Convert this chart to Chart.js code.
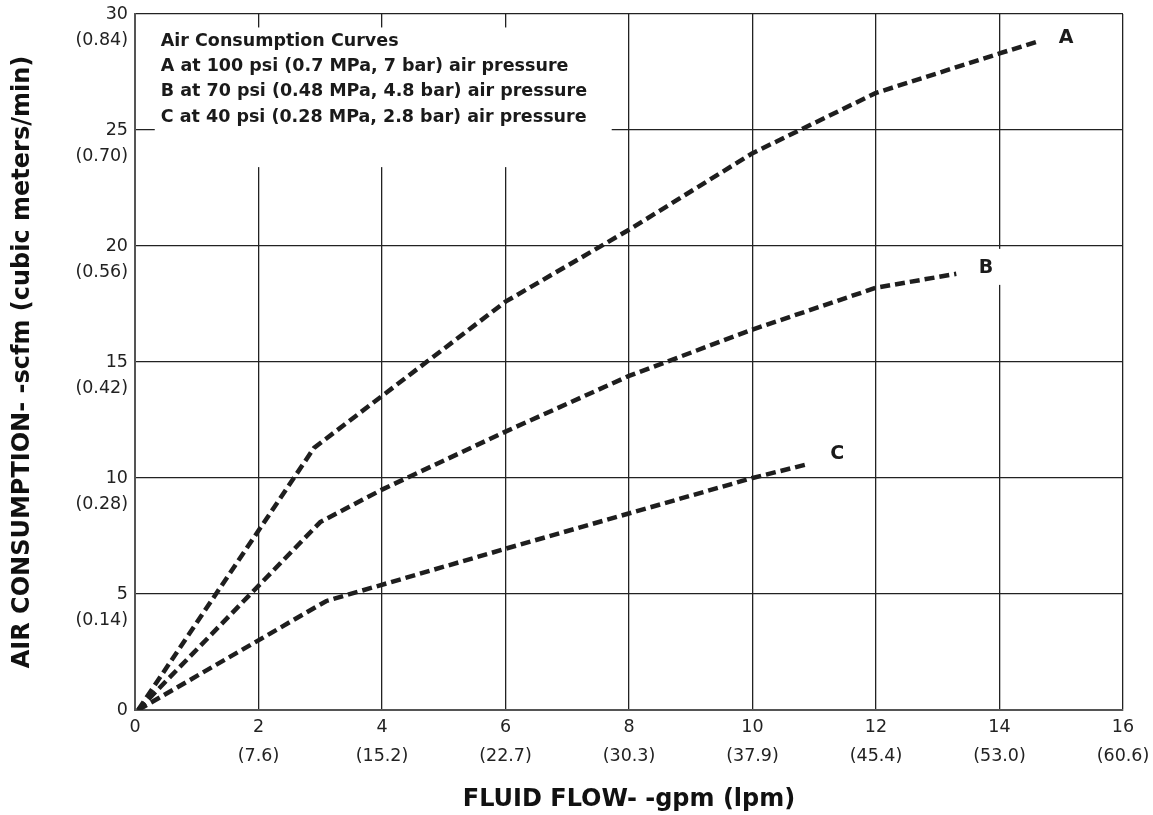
<!DOCTYPE html>
<html>
<head>
<meta charset="utf-8">
<script src="https://cdn.jsdelivr.net/npm/chart.js@4.4.1/dist/chart.umd.min.js"></script>
<style>
    body { margin: 0; background: #fff; }
    #wrap { width: 1153px; height: 815px; }
</style>
</head>
<body>
<div id="wrap"><canvas id="chart" width="1153" height="815"></canvas></div>
<script>
// gpm tick values and their lpm equivalents
const gpmTicks = [0, 2, 4, 6, 8, 10, 12, 14, 16];
const lpmLabels = ["", "(7.6)", "(15.2)", "(22.7)", "(30.3)", "(37.9)", "(45.4)", "(53.0)", "(60.6)"];
// scfm tick values and their cubic meters/min equivalents
const scfmTicks = [0, 5, 10, 15, 20, 25, 30];
const cmmLabels = ["", "(0.14)", "(0.28)", "(0.42)", "(0.56)", "(0.70)", "(0.84)"];

// curve A - 100 psi
const flowA = [0.05, 2.9, 6, 8, 10, 12, 14, 14.6];
const airA = [0, 11.3, 17.6, 20.7, 24.0, 26.6, 28.3, 28.8];
// curve B - 70 psi
const flowB = [0.05, 3.0, 4, 6, 8, 10, 12, 13.3];
const airB = [0, 8.1, 9.5, 12.0, 14.4, 16.4, 18.2, 18.8];
// curve C - 40 psi
const flowC = [0.05, 3.1, 6, 10, 10.9];
const airC = [0, 4.7, 6.95, 10, 10.6];

const curveNames = ["A", "B", "C"];
const legendLines = [
    "Air Consumption Curves",
    "A at 100 psi (0.7 MPa, 7 bar) air pressure",
    "B at 70 psi (0.48 MPa, 4.8 bar) air pressure",
    "C at 40 psi (0.28 MPa, 2.8 bar) air pressure"
];

function toPoints(xs, ys) {
    return xs.map((x, i) => ({ x: x, y: ys[i] }));
}

function curve(label, xs, ys) {
    return {
        label: label,
        data: toPoints(xs, ys),
        borderColor: "#1e1e1e",
        borderWidth: 4.5,
        borderDash: [10, 5],
        borderCapStyle: "butt",
        pointRadius: 0,
        tension: 0,
        fill: false
    };
}

const FONT = "'DejaVu Sans', sans-serif";

// legend box and curve letters, with white backing that hides the grid
const notesPlugin = {
    id: "notes",
    beforeDatasetsDraw(chart) {
        const ctx = chart.ctx;
        const xs = chart.scales.x;
        const ys = chart.scales.y;
        ctx.save();

        let bx0 = xs.getPixelForValue(0.32);
        let bx1 = xs.getPixelForValue(7.72);
        let by0 = ys.getPixelForValue(29.42);
        let by1 = ys.getPixelForValue(23.4);
        ctx.fillStyle = "#fff";
        ctx.fillRect(bx0, by0, bx1 - bx0, by1 - by0);

        ctx.fillStyle = "#1a1a1a";
        ctx.font = "bold 17.5px " + FONT;
        ctx.textAlign = "left";
        ctx.textBaseline = "middle";
        legendLines.forEach((t, i) => {
            ctx.fillText(t, bx0 + 6, by0 + 14 + i * 25.2);
        });

        // curve letters
        const spots = [[15.08, 29.0], [13.78, 19.1], [11.37, 11.08]];
        ctx.font = "bold 19px " + FONT;
        ctx.textAlign = "center";
        curveNames.forEach((n, i) => {
            let px = xs.getPixelForValue(spots[i][0]);
            let py = ys.getPixelForValue(spots[i][1]);
            ctx.fillStyle = "#fff";
            ctx.fillRect(px - 18, py - 18, 36, 36);
            ctx.fillStyle = "#1a1a1a";
            ctx.fillText(n, px, py + 1);
        });
        ctx.restore();
    }
};

let ctx = document.getElementById("chart").getContext("2d");

new Chart(ctx, {
    type: "line",
    data: {
        datasets: [
            curve("A", flowA, airA),
            curve("B", flowB, airB),
            curve("C", flowC, airC)
        ]
    },
    options: {
        responsive: false,
        animation: false,
        events: [],
        layout: { padding: { top: 14, right: 30, left: 0, bottom: 0 } },
        plugins: {
            legend: { display: false },
            tooltip: { enabled: false }
        },
        scales: {
            x: {
                type: "linear",
                min: 0,
                max: 16,
                afterBuildTicks(scale) {
                    scale.ticks = gpmTicks.map(v => ({ value: v }));
                },
                afterFit(scale) {
                    scale.height = 105;
                    scale.paddingLeft = 0;
                    scale.paddingRight = 0;
                },
                grid: { color: "#222", lineWidth: 1.3, drawTicks: false },
                border: { color: "#555", width: 2 },
                ticks: {
                    padding: 2,
                    color: "#222",
                    maxRotation: 0,
                    autoSkip: false,
                    font: { family: FONT, size: 17.5, lineHeight: 1.71 },
                    callback(value) {
                        let i = gpmTicks.indexOf(value);
                        return lpmLabels[i] ? [String(value), lpmLabels[i]] : [String(value)];
                    }
                },
                title: {
                    display: true,
                    text: "FLUID FLOW- -gpm (lpm)",
                    color: "#111",
                    font: { family: FONT, size: 24, weight: "bold" },
                    padding: { top: 0, bottom: 1 }
                }
            },
            y: {
                min: 0,
                max: 30,
                afterBuildTicks(scale) {
                    scale.ticks = scfmTicks.map(v => ({ value: v }));
                },
                afterFit(scale) {
                    scale.width = 135;
                    scale.paddingTop = 0;
                    scale.paddingBottom = 0;
                },
                grid: { color: "#222", lineWidth: 1.3, drawTicks: false },
                border: { color: "#555", width: 2 },
                ticks: {
                    padding: 7,
                    color: "#222",
                    labelOffset: 13,
                    font: { family: FONT, size: 17.5, lineHeight: 1.486 },
                    callback(value) {
                        let i = scfmTicks.indexOf(value);
                        return [String(value), cmmLabels[i]];
                    }
                },
                title: {
                    display: true,
                    text: "AIR CONSUMPTION- -scfm (cubic meters/min)",
                    color: "#111",
                    font: { family: FONT, size: 24, weight: "bold" },
                    padding: { top: 8, bottom: 0 }
                }
            }
        }
    },
    plugins: [notesPlugin]
});
</script>
</body>
</html>
